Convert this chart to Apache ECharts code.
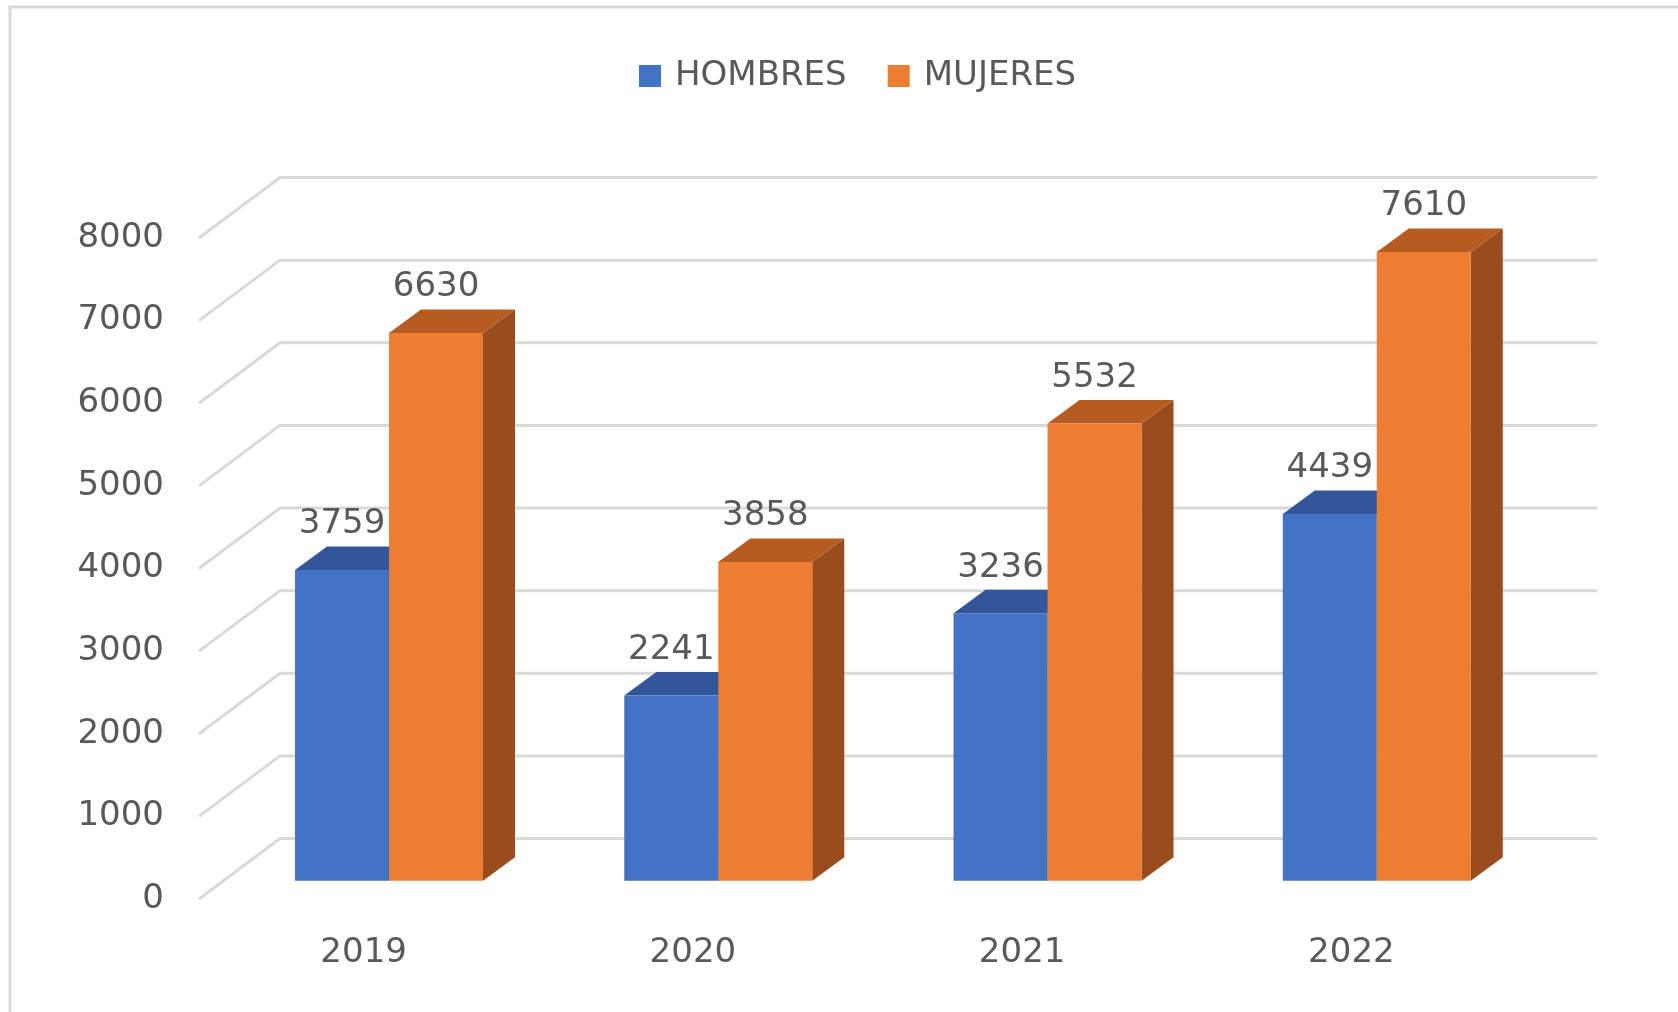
<!DOCTYPE html>
<html>
<head>
<meta charset="utf-8">
<title>Hombres y mujeres 2019-2022</title>
<script src="https://cdn.jsdelivr.net/npm/echarts@6/dist/echarts.min.js"></script>
<style>
  html, body { margin: 0; padding: 0; background: #fff; }
  #chart { width: 1678px; height: 1012px; }
</style>
</head>
<body>
<div id="chart"></div>
<script>
const years = ['2019', '2020', '2021', '2022'];
const hombres = [3759, 2241, 3236, 4439];
const mujeres = [6630, 3858, 5532, 7610];
const yTicks = [0, 1000, 2000, 3000, 4000, 5000, 6000, 7000, 8000];

const FONT = 'DejaVu Sans';
const TEXT = '#595959';
const GRID_LINE = '#D9D9D9';

// efecto 3D: fondo de la pared, desplazamiento de las barras dentro del suelo y grosor
const WALL = [81, -60.5];
const BAR_SHIFT = [25.4, -18.3];
const BAR_DEPTH = [32, -23.5];
const BAR_RATIO = 94 / 329.25;

const faces = [
  { front: '#4472C4', top: '#33569A', side: '#2C4C88' },
  { front: '#ED7D31', top: '#B65C22', side: '#994C1D' }
];

// lineas de la cuadricula: pared izquierda en diagonal + pared del fondo
function gridItem (params, api) {
  const cs = params.coordSys;
  const y = api.coord([0, api.value(1)])[1];
  return {
    type: 'polyline',
    shape: { points: [[cs.x, y], [cs.x + WALL[0], y + WALL[1]], [cs.x + cs.width + WALL[0], y + WALL[1]]] },
    style: { stroke: GRID_LINE, lineWidth: 3, fill: null }
  };
}

// barra 3D: cara lateral, cara superior, frente y etiqueta
function barItem (side) {
  return function (params, api) {
    const cat = api.value(0);
    const val = api.value(1);
    const base = api.coord([cat, 0]);
    const top = api.coord([cat, val]);
    const w = api.size([1, 0])[0] * BAR_RATIO;
    const x0 = base[0] + BAR_SHIFT[0] + (side === 0 ? -w : 0);
    const x1 = x0 + w;
    const yb = base[1] + BAR_SHIFT[1];
    const yt = top[1] + BAR_SHIFT[1];
    const dx = BAR_DEPTH[0], dy = BAR_DEPTH[1];
    const c = faces[side];
    return {
      type: 'group',
      children: [
        { type: 'polygon', shape: { points: [[x1, yb], [x1 + dx, yb + dy], [x1 + dx, yt + dy], [x1, yt]] }, style: { fill: c.side } },
        { type: 'polygon', shape: { points: [[x0, yt], [x1, yt], [x1 + dx, yt + dy], [x0 + dx, yt + dy]] }, style: { fill: c.top } },
        { type: 'rect', shape: { x: x0, y: yt, width: w, height: yb - yt }, style: { fill: c.front } },
        {
          type: 'text',
          x: (x0 + x1) / 2,
          y: yt + dy - 22,
          style: { text: String(val), fill: TEXT, font: '34px "' + FONT + '"', align: 'center', verticalAlign: 'middle' }
        }
      ]
    };
  };
}

const chart = echarts.init(document.getElementById('chart'));
chart.setOption({
  animation: false,
  backgroundColor: '#fff',
  graphic: [{
    type: 'rect',
    shape: { x: 10, y: 7, width: 1800, height: 1200 },
    style: { fill: null, stroke: '#D9D9D9', lineWidth: 3 },
    silent: true
  }],
  legend: {
    data: ['HOMBRES', 'MUJERES'],
    left: 634,
    top: 54,
    icon: 'rect',
    itemWidth: 22,
    itemHeight: 22,
    itemGap: 41,
    selectedMode: false,
    textStyle: { color: TEXT, fontSize: 34, fontFamily: FONT, padding: [0, 0, 0, 9] }
  },
  grid: { left: 199, right: 162, top: 238, bottom: 113 },
  xAxis: {
    type: 'category',
    data: years,
    axisLine: { show: false },
    axisTick: { show: false },
    axisLabel: { margin: 54, verticalAlign: 'middle', color: TEXT, fontSize: 34, fontFamily: FONT }
  },
  yAxis: {
    type: 'value',
    min: yTicks[0],
    max: yTicks[yTicks.length - 1],
    interval: 1000,
    splitLine: { show: false },
    axisLine: { show: false },
    axisTick: { show: false },
    axisLabel: {
      margin: 35,
      color: TEXT,
      fontSize: 34,
      fontFamily: FONT,
      formatter: v => String(v)
    }
  },
  series: [
    {
      type: 'custom',
      name: 'grid',
      clip: false,
      silent: true,
      z: 1,
      renderItem: gridItem,
      data: yTicks.map(v => [0, v])
    },
    {
      type: 'custom',
      name: 'HOMBRES',
      clip: false,
      z: 2,
      itemStyle: { color: faces[0].front },
      renderItem: barItem(0),
      data: hombres.map((v, i) => [i, v])
    },
    {
      type: 'custom',
      name: 'MUJERES',
      clip: false,
      z: 3,
      itemStyle: { color: faces[1].front },
      renderItem: barItem(1),
      data: mujeres.map((v, i) => [i, v])
    }
  ]
});
</script>
</body>
</html>
